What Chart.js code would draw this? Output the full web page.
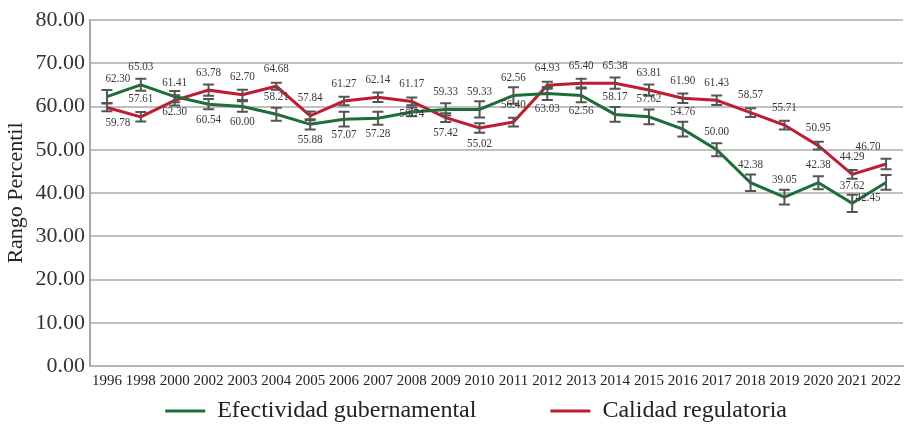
<!DOCTYPE html>
<html lang="es">
<head>
<meta charset="utf-8">
<script src="https://cdn.jsdelivr.net/npm/chart.js@4.4.1/dist/chart.umd.min.js"></script>
<style>
    html, body { margin: 0; padding: 0; background: #fff; }
    #wrap { width: 913px; height: 427px; }
</style>
</head>
<body>
<div id="wrap"><canvas id="chart"></canvas></div>
<script>
// Datos
const years = ['1996', '1998', '2000', '2002', '2003', '2004', '2005', '2006', '2007', '2008', '2009', '2010',
    '2011', '2012', '2013', '2014', '2015', '2016', '2017', '2018', '2019', '2020', '2021', '2022'];
const efectividad = [62.30, 65.03, 62.30, 60.54, 60.00, 58.21, 55.88, 57.07, 57.28, 58.74, 59.33, 59.33,
    62.56, 63.03, 62.56, 58.17, 57.62, 54.76, 50.00, 42.38, 39.05, 42.38, 37.62, 42.45];
const calidad = [59.78, 57.61, 61.41, 63.78, 62.70, 64.68, 57.84, 61.27, 62.14, 61.17, 57.42, 55.02,
    56.40, 64.93, 65.40, 65.38, 63.81, 61.90, 61.43, 58.57, 55.71, 50.95, 44.29, 46.70];
// Margen de error (+/-)
const errEfectividad = [1.5, 1.4, 1.3, 1.2, 1.2, 1.5, 1.2, 1.7, 1.5, 1.0, 1.4, 1.9,
    1.9, 1.5, 1.6, 1.7, 1.7, 1.7, 1.5, 1.9, 1.7, 1.5, 2.0, 1.7];
const errCalidad = [0.9, 1.1, 1.2, 1.3, 1.2, 0.8, 1.0, 1.0, 1.1, 0.9, 1.0, 1.1,
    1.0, 0.8, 1.0, 1.3, 1.3, 1.1, 1.1, 1.0, 1.0, 0.9, 1.0, 1.2];
const yTicks = [0, 10, 20, 30, 40, 50, 60, 70, 80];

// Posición de etiquetas: a = arriba, b = abajo, c = centro
const posEfectividad = ['a', 'a', 'b', 'b', 'b', 'a', 'b', 'b', 'b', 'c', 'a', 'a',
    'a', 'b', 'b', 'a', 'a', 'a', 'a', 'a', 'a', 'a', 'a', 'b'];
const posCalidad = ['b', 'a', 'a', 'a', 'a', 'a', 'a', 'a', 'a', 'a', 'b', 'b',
    'a', 'a', 'a', 'a', 'a', 'a', 'a', 'a', 'a', 'a', 'a', 'a'];

const FONT = '"Liberation Serif", "Times New Roman", serif';

// Barras de error
const errorBars = {
    id: 'errorBars',
    afterDatasetsDraw(chart) {
        const {ctx, scales: {y}} = chart;
        ctx.save();
        ctx.strokeStyle = '#555';
        ctx.lineWidth = 2;
        chart.data.datasets.forEach((ds, i) => {
            chart.getDatasetMeta(i).data.forEach((pt, j) => {
                const top = y.getPixelForValue(ds.data[j] + ds.errors[j]);
                const bot = y.getPixelForValue(ds.data[j] - ds.errors[j]);
                ctx.beginPath();
                ctx.moveTo(pt.x, top); ctx.lineTo(pt.x, bot);
                ctx.moveTo(pt.x - 5.5, top); ctx.lineTo(pt.x + 5.5, top);
                ctx.moveTo(pt.x - 5.5, bot); ctx.lineTo(pt.x + 5.5, bot);
                ctx.stroke();
            });
        });
        ctx.restore();
    }
};

// Etiquetas de valores
const valueLabels = {
    id: 'valueLabels',
    afterDraw(chart) {
        const {ctx} = chart;
        ctx.save();
        ctx.fillStyle = '#383838';
        ctx.font = '13.5px ' + FONT;
        ctx.textAlign = 'center';
        ctx.textBaseline = 'middle';
        chart.data.datasets.forEach((ds, i) => {
            const n = ds.data.length;
            chart.getDatasetMeta(i).data.forEach((pt, j) => {
                const p = ds.labelPos[j];
                const dy = p === 'a' ? -18 : p === 'b' ? 15 : 2;
                const dx = j === 0 ? 11 : j === n - 1 ? -18 : 0;
                ctx.save();
                ctx.translate(pt.x + dx, pt.y + dy);
                ctx.scale(0.82, 1);
                ctx.fillText(ds.data[j].toFixed(2), 0, 0);
                ctx.restore();
            });
        });
        ctx.restore();
    }
};

const ctx = document.getElementById('chart').getContext('2d');
const chart = new Chart(ctx, {
    type: 'line',
    data: {
        labels: years,
        datasets: [{
            label: 'Efectividad gubernamental',
            data: efectividad,
            errors: errEfectividad,
            labelPos: posEfectividad,
            borderColor: '#1d6e3a',
            backgroundColor: '#1d6e3a',
            borderWidth: 3,
            pointRadius: 0,
            tension: 0
        }, {
            label: 'Calidad regulatoria',
            data: calidad,
            errors: errCalidad,
            labelPos: posCalidad,
            borderColor: '#c11b2e',
            backgroundColor: '#c11b2e',
            borderWidth: 3,
            pointRadius: 0,
            tension: 0
        }]
    },
    options: {
        responsive: true,
        maintainAspectRatio: false,
        animation: false,
        layout: { padding: { top: 20, right: 10, left: 0, bottom: -6 } },
        plugins: {
            tooltip: { enabled: false },
            legend: {
                position: 'bottom',
                align: 'end',
                labels: {
                    usePointStyle: true,
                    pointStyle: 'line',
                    pointStyleWidth: 40,
                    padding: 8,
                    color: '#222',
                    font: { family: FONT, size: 24 },
                    generateLabels: c => Chart.defaults.plugins.legend.labels.generateLabels(c)
                        .map((l, i) => ({...l, text: l.text + '\u00a0'.repeat(i === 0 ? 11 : 18)}))
                }
            }
        },
        scales: {
            x: {
                offset: true,
                grid: { display: false, drawTicks: false },
                border: { color: '#b5b5b5', width: 2 },
                ticks: {
                    color: '#222',
                    font: { family: FONT, size: 15 },
                    autoSkip: false,
                    maxRotation: 0,
                    padding: 6
                },
                afterFit: s => { s.height = 25; }
            },
            y: {
                min: 0,
                max: 80,
                afterBuildTicks: s => { s.ticks = yTicks.map(v => ({value: v})); },
                grid: { color: '#c0c0c0', lineWidth: 2, drawTicks: false },
                border: { color: '#a8a8a8', width: 2 },
                ticks: {
                    color: '#333',
                    font: { family: FONT, size: 22 },
                    padding: 5,
                    callback: v => v.toFixed(2)
                },
                title: {
                    display: true,
                    text: 'Rango Percentil',
                    color: '#222',
                    font: { family: FONT, size: 22 },
                    padding: { top: 3, bottom: 0 }
                },
                afterFit: s => { s.width = 90; }
            }
        }
    },
    plugins: [errorBars, valueLabels]
});
</script>
</body>
</html>
